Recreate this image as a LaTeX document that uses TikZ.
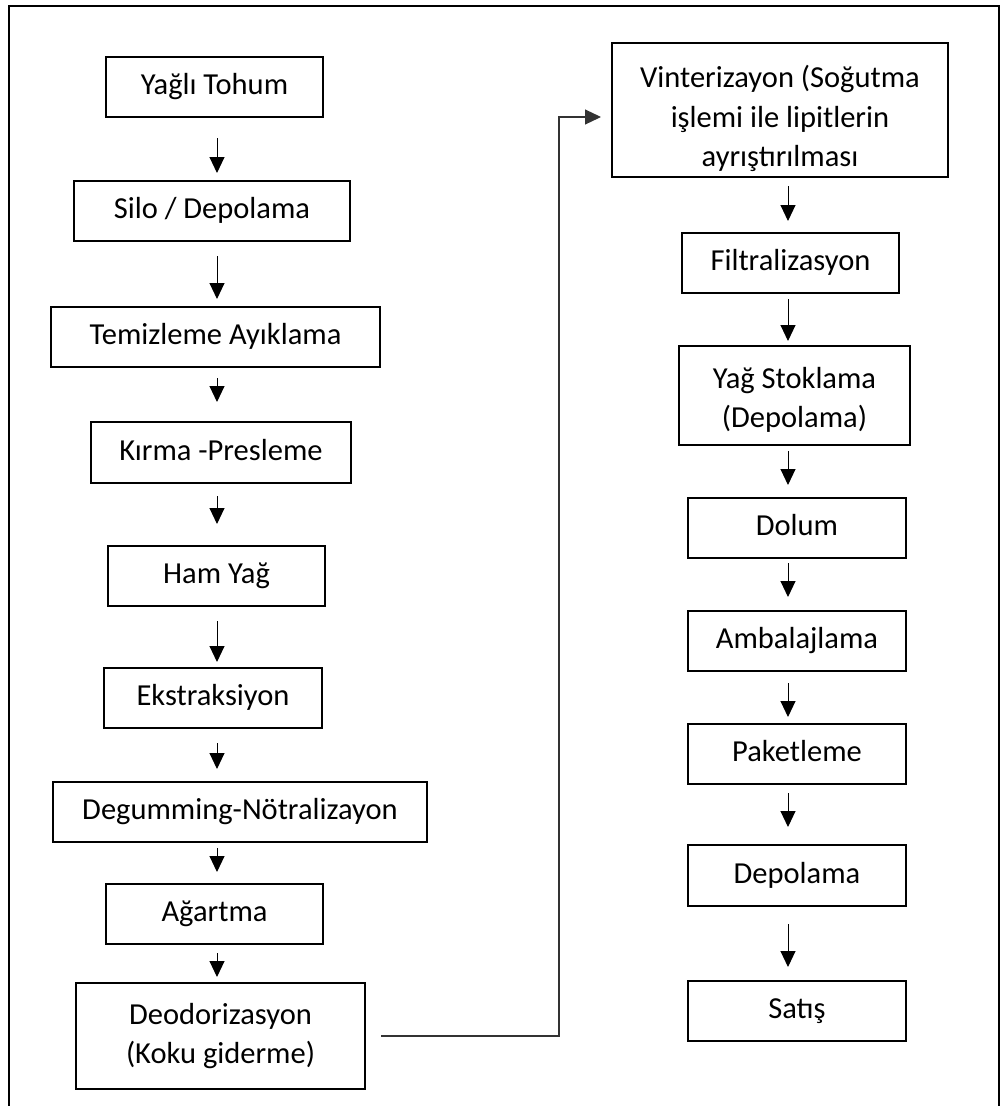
\documentclass[tikz,border=0pt]{standalone}
\usepackage{fontspec}
\setmainfont{Carlito}
\usetikzlibrary{arrows.meta}

\newcommand{\stagefont}{\fontsize{30.5}{39.5}\selectfont}

\tikzset{
  stage/.style={draw, line width=2pt, inner sep=0pt, minimum height=60pt, align=center, font=\stagefont},
  oneline/.style={text height=21pt, text depth=6pt},
  flow/.style={line width=1pt, -{Triangle[length=16pt,width=15pt]}}
}

\begin{document}
\begin{tikzpicture}[x=1pt,y=-1pt]
\useasboundingbox (0,0) rectangle (1005,1106);
% frame, open at the bottom
\draw [line width=2.6pt] (9,1106) -- (9,6) -- (999,6) -- (999,1106);

\coordinate (colL) at (217,0);
\coordinate (colR) at (788,0);

% left column
\node [stage, oneline, minimum width=217pt] (tohum) at (214.5,87) {Yağlı Tohum};
\node [stage, oneline, minimum width=276pt] (silo) at (212,211) {Silo / Depolama};
\node [stage, oneline, minimum width=329pt] (temiz) at (215.5,337) {Temizleme Ayıklama};
\node [stage, oneline, minimum width=260pt, minimum height=61pt] (kirma) at (221,452.5) {Kırma -Presleme};
\node [stage, oneline, minimum width=217pt] (ham) at (216.5,576) {Ham Yağ};
\node [stage, oneline, minimum width=218pt] (ekstr) at (213,698) {Ekstraksiyon};
\node [stage, oneline, minimum width=374pt] (degum) at (240,812) {Degumming-Nötralizayon};
\node [stage, oneline, minimum width=217pt] (agart) at (214.5,914) {Ağartma};
\node [stage, minimum width=289pt, minimum height=106pt] (deo) at (220.5,1036) {Deodorizasyon\\(Koku giderme)};

% right column
\node [stage, minimum width=336pt, minimum height=134pt] (vint) at (780,110) {\rule{0pt}{40pt}Vinterizayon (Soğutma\\işlemi ile lipitlerin\\ayrıştırılması};
\node [stage, oneline, minimum width=217pt] (filtr) at (790.5,263) {Filtralizasyon};
\node [stage, minimum width=231pt, minimum height=99pt] (stok) at (794.5,395.5) {\rule{0pt}{30pt}Yağ Stoklama\\(Depolama)};
\node [stage, oneline, minimum width=218pt] (dolum) at (797,528) {Dolum};
\node [stage, oneline, minimum width=218pt] (ambal) at (797,641) {Ambalajlama};
\node [stage, oneline, minimum width=218pt] (paket) at (797,754) {Paketleme};
\node [stage, oneline, minimum width=218pt, minimum height=61pt] (depo) at (797,875.5) {Depolama};
\node [stage, oneline, minimum width=218pt] (satis) at (797,1011) {Satış};

% arrows down the left column
\draw [flow, shorten <=20pt, shorten >=7pt] (tohum.south -| colL) -- (silo.north -| colL);
\draw [flow, shorten <=14pt, shorten >=7pt] (silo.south -| colL) -- (temiz.north -| colL);
\draw [flow, shorten <=10pt, shorten >=19pt] (temiz.south -| colL) -- (kirma.north -| colL);
\draw [flow, shorten <=12pt, shorten >=21pt] (kirma.south -| colL) -- (ham.north -| colL);
\draw [flow, shorten <=14pt, shorten >=5pt] (ham.south -| colL) -- (ekstr.north -| colL);
\draw [flow, shorten <=14pt, shorten >=12pt] (ekstr.south -| colL) -- (degum.north -| colL);
\draw [flow, shorten <=5pt, shorten >=11pt] (degum.south -| colL) -- (agart.north -| colL);
\draw [flow, shorten <=8pt, shorten >=5pt] (agart.south -| colL) -- (deo.north -| colL);

% across to the right column
\coordinate (bend) at (559,117);
\draw [flow, line width=1.2pt, black!80, shorten <=15pt, shorten >=10pt] (deo.east) -| (bend) -- (vint.west |- bend);

% arrows down the right column
\draw [flow, shorten <=8pt, shorten >=11pt] (vint.south -| colR) -- (filtr.north -| colR);
\draw [flow, shorten <=5pt, shorten >=4pt] (filtr.south -| colR) -- (stok.north -| colR);
\draw [flow, shorten <=5pt, shorten >=12pt] (stok.south -| colR) -- (dolum.north -| colR);
\draw [flow, shorten <=4pt, shorten >=13pt] (dolum.south -| colR) -- (ambal.north -| colR);
\draw [flow, shorten <=11pt, shorten >=6pt] (ambal.south -| colR) -- (paket.north -| colR);
\draw [flow, shorten <=8pt, shorten >=17pt] (paket.south -| colR) -- (depo.north -| colR);
\draw [flow, shorten <=17pt, shorten >=13pt] (depo.south -| colR) -- (satis.north -| colR);
\end{tikzpicture}
\end{document}
